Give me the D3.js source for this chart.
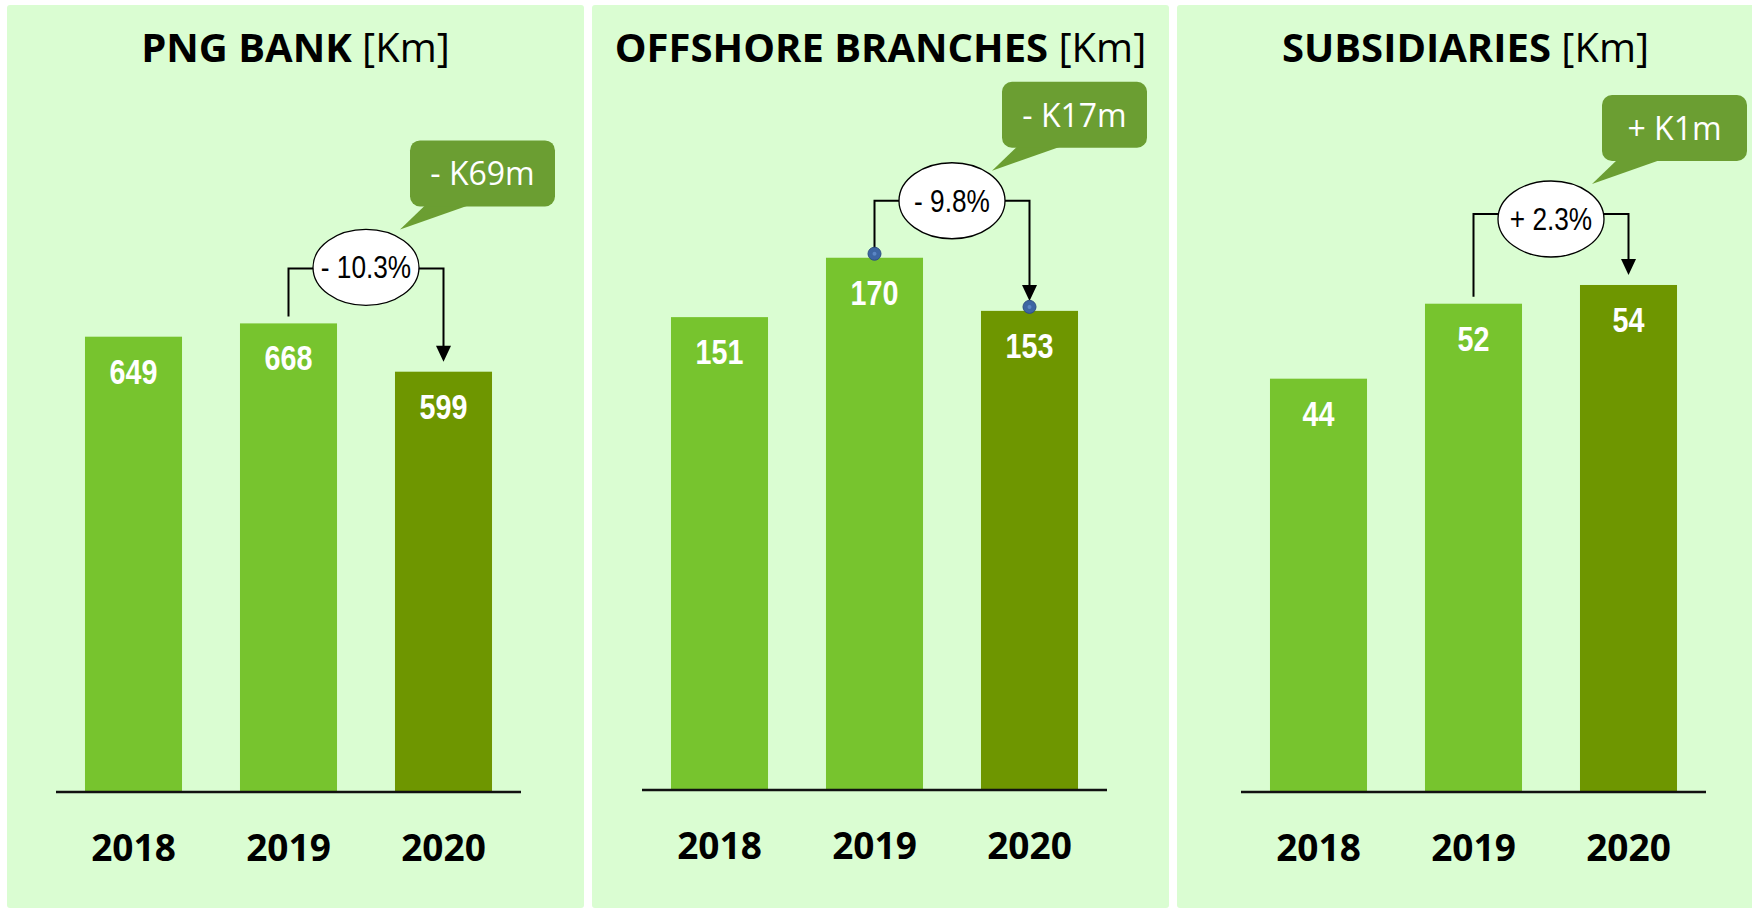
<!DOCTYPE html>
<html>
<head>
<meta charset="utf-8">
<script src="https://cdn.jsdelivr.net/npm/d3@7"></script>
<style>
body { margin:0; background:#fff; }
svg { display:block; }
.title { font-family:"Open Sans", sans-serif; font-size:40px; fill:#000; }
.year { font-family:"Open Sans", sans-serif; font-weight:700; font-size:37px; fill:#000; }
.val { font-family:"Liberation Sans", Arial, sans-serif; font-weight:700; font-size:35px; fill:#fff; }
.pct { font-family:"Liberation Sans", Arial, sans-serif; font-size:32px; fill:#000; }
.callout-text { font-family:"Open Sans", sans-serif; font-size:32px; fill:#fff; }
</style>
</head>
<body>
<div id="chart"></div>
<script>
// data
var panelTitles = ["PNG BANK", "OFFSHORE BRANCHES", "SUBSIDIARIES"];
var unitLabel = "[Km]";
var years = ["2018", "2019", "2020"];
var pngBank = [649, 668, 599];
var offshore = [151, 170, 153];
var subsidiaries = [44, 52, 54];
var pctChange = ["- 10.3%", "- 9.8%", "+ 2.3%"];
var absChange = ["- K69m", "- K17m", "+ K1m"];
var yMax = [1000, 224, 74.7];

var series = [pngBank, offshore, subsidiaries];

// layout
var width = 1752, height = 910;
var panelX = [7, 592, 1177];
var panelW = 577;
var plotLeft = [56, 642, 1241];
var plotW = 465;
var baseline = [791, 789, 791];
var plotH = 700;
var bracketOff = [55, 57, 71];
var ellipseDy = [-1, 0, 5];
var boxDx = [44, 50, 51];
var boxDy = [-128, -119, -119];
var showDots = [false, true, false];
var narrow = 0.82; // squeeze for the Arial Narrow look

var lightGreen = "#77C42E", darkGreen = "#6E9600", boxGreen = "#6B9E32", panelBg = "#DAFDD2";

var svg = d3.select("#chart").append("svg")
    .attr("width", width)
    .attr("height", height);

function narrowText(g, cls, x, y, txt) {
  g.append("g")
    .attr("transform", "translate(" + x + "," + y + ") scale(" + narrow + ",1)")
    .append("text")
    .attr("class", cls)
    .attr("text-anchor", "middle")
    .text(txt);
}

panelTitles.forEach(function(title, p) {
  var g = svg.append("g");
  var vals = series[p];

  g.append("rect")
    .attr("x", panelX[p]).attr("y", 5)
    .attr("width", panelW).attr("height", 903)
    .attr("rx", 3)
    .attr("fill", panelBg);

  // title
  var t = g.append("text")
    .attr("class", "title")
    .attr("x", panelX[p] + panelW / 2)
    .attr("y", 62)
    .attr("text-anchor", "middle");
  t.append("tspan").attr("font-weight", 700).text(title + " ");
  t.append("tspan").attr("font-weight", 400).text(unitLabel);

  var x = d3.scaleBand()
    .domain(years)
    .range([plotLeft[p], plotLeft[p] + plotW])
    .paddingInner(0.374)
    .paddingOuter(0.187);

  var y = d3.scaleLinear()
    .domain([0, yMax[p]])
    .range([baseline[p], baseline[p] - plotH]);

  g.selectAll(".bar").data(vals).enter().append("rect")
    .attr("class", "bar")
    .attr("x", function(d, i) { return x(years[i]); })
    .attr("y", function(d) { return y(d); })
    .attr("width", x.bandwidth())
    .attr("height", function(d) { return y(0) - y(d); })
    .attr("fill", function(d, i) { return i == 2 ? darkGreen : lightGreen; });

  vals.forEach(function(d, i) {
    narrowText(g, "val", x(years[i]) + x.bandwidth() / 2, y(d) + 47, d);
  });

  // axis
  g.append("line")
    .attr("x1", plotLeft[p]).attr("x2", plotLeft[p] + plotW)
    .attr("y1", y(0) + 1).attr("y2", y(0) + 1)
    .attr("stroke", "#111").attr("stroke-width", 2.5);

  g.selectAll(".year").data(years).enter().append("text")
    .attr("class", "year")
    .attr("x", function(d) { return x(d) + x.bandwidth() / 2; })
    .attr("y", baseline[p] + 70)
    .attr("text-anchor", "middle")
    .text(function(d) { return d; });

  // change bracket 2019 -> 2020
  var x1 = x(years[1]) + x.bandwidth() / 2;
  var x2 = x(years[2]) + x.bandwidth() / 2;
  var top1 = y(vals[1]), top2 = y(vals[2]);
  var by = Math.min(top1, top2) - bracketOff[p];
  var end1 = showDots[p] ? top1 - 4 : top1 - 7;
  var tip = top2 - 10;

  g.append("path")
    .attr("d", "M" + x1 + "," + end1 + "V" + by + "H" + x2 + "V" + (tip - 14))
    .attr("fill", "none").attr("stroke", "#000").attr("stroke-width", 2);
  g.append("path")
    .attr("d", "M" + (x2 - 7.5) + "," + (tip - 16) + "L" + (x2 + 7.5) + "," + (tip - 16) + "L" + x2 + "," + tip + "Z")
    .attr("fill", "#000");

  if (showDots[p]) {
    [[x1, top1 - 4], [x2, top2 - 4]].forEach(function(c) {
      g.append("circle")
        .attr("cx", c[0]).attr("cy", c[1]).attr("r", 6.5)
        .attr("fill", "#3D66A3").attr("stroke", "#2E4F82").attr("stroke-width", 1);
      g.append("circle")
        .attr("cx", c[0]).attr("cy", c[1]).attr("r", 2)
        .attr("fill", "#5B86C4");
    });
  }

  var cx = (x1 + x2) / 2, cy = by + ellipseDy[p];
  g.append("ellipse")
    .attr("cx", cx).attr("cy", cy)
    .attr("rx", 53).attr("ry", 38)
    .attr("fill", "#fff").attr("stroke", "#000").attr("stroke-width", 1.3);
  narrowText(g, "pct", cx, cy + 11, pctChange[p]);

  // callout box
  var bx = cx + boxDx[p], bTop = by + boxDy[p], bw = 145, bh = 66;
  g.append("path")
    .attr("d", "M" + (bx + 16) + "," + (bTop + bh - 2) + "L" + (bx + 61) + "," + (bTop + bh - 2) +
      "L" + (bx - 10) + "," + (bTop + bh + 23) + "Z")
    .attr("fill", boxGreen);
  g.append("rect")
    .attr("x", bx).attr("y", bTop)
    .attr("width", bw).attr("height", bh)
    .attr("rx", 10)
    .attr("fill", boxGreen);
  g.append("text")
    .attr("class", "callout-text")
    .attr("x", bx + bw / 2).attr("y", bTop + 45)
    .attr("text-anchor", "middle")
    .text(absChange[p]);
});
</script>
</body>
</html>
